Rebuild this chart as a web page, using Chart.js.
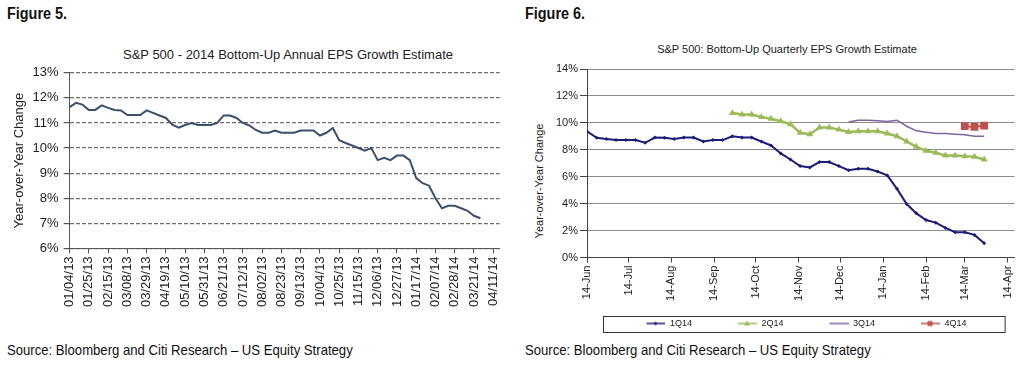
<!DOCTYPE html>
<html>
<head>
<meta charset="utf-8">
<script src="https://cdn.jsdelivr.net/npm/chart.js@4/dist/chart.umd.min.js"></script>
<style>
  body { margin: 0; background: #fff; width: 1024px; height: 365px; overflow: hidden; position: relative; font-family: "Liberation Sans", Arial, sans-serif; color: #111; }
  .fig { position: absolute; top: 5px; font-weight: bold; font-size: 16px; transform: scaleX(0.9); transform-origin: left top; }
  .ttl { position: absolute; white-space: nowrap; transform: translateX(-50%); color: #222; }
  .src { position: absolute; top: 342px; font-size: 14.5px; white-space: nowrap; transform: scaleX(0.905); transform-origin: left top; }
  .ytl { position: absolute; font-size: 11px; white-space: nowrap; transform: translate(-50%, -50%) rotate(-90deg); color: #222; }
  .box { position: absolute; }
</style>
</head>
<body>
<div class="fig" style="left:7px">Figure 5.</div>
<div class="fig" style="left:525px">Figure 6.</div>
<div class="ttl" style="left:288px; top:47px; font-size:13px">S&amp;P 500 - 2014 Bottom-Up Annual EPS Growth Estimate</div>
<div class="ttl" style="left:787px; top:43px; font-size:11px">S&amp;P 500: Bottom-Up Quarterly EPS Growth Estimate</div>
<div class="ytl" style="left:539px; top:181px">Year-over-Year Change</div>
<div class="box" style="left:0; top:60px; width:512px; height:250px"><canvas id="fig5"></canvas></div>
<div class="box" style="left:512px; top:56px; width:512px; height:284px"><canvas id="fig6"></canvas></div>
<div class="src" style="left:7px">Source: Bloomberg and Citi Research – US Equity Strategy</div>
<div class="src" style="left:525px">Source: Bloomberg and Citi Research – US Equity Strategy</div>

<script>
Chart.defaults.font.family = '"Liberation Sans", Arial, sans-serif';
Chart.defaults.color = '#222';

// ---- Figure 5 data: weekly, starting Fri 01/04/13 ----
const fig5Start = '2013-01-04';
const fig5Weeks = 68;   // axis runs a little past 04/11/14
const fig5Values = [
  11.63, 11.8, 11.73, 11.52, 11.52, 11.7, 11.6, 11.52, 11.5, 11.32,
  11.32, 11.32, 11.5, 11.4, 11.3, 11.2, 10.93, 10.81, 10.92, 11.0,
  10.92, 10.92, 10.92, 11.0, 11.3, 11.3, 11.2, 11.0, 10.9, 10.72,
  10.61, 10.61, 10.7, 10.61, 10.61, 10.61, 10.7, 10.7, 10.7, 10.5,
  10.61, 10.8, 10.31, 10.2, 10.1, 10.0, 9.9, 10.0, 9.52, 9.61,
  9.52, 9.7, 9.7, 9.52, 8.8, 8.6, 8.5, 8.0, 7.6, 7.7,
  7.7, 7.6, 7.5, 7.3, 7.2
];

// ---- Figure 6 data: weekly from 14-Jun-13, each series starts at a week index ----
const fig6Start = '2013-06-14';
const q1Start = 0;
const q1Values = [
  9.38, 8.89, 8.81, 8.72, 8.72, 8.72, 8.52, 8.91, 8.89, 8.81,
  8.91, 8.91, 8.62, 8.72, 8.72, 9.0, 8.91, 8.91, 8.62, 8.32,
  7.73, 7.28, 6.79, 6.69, 7.09, 7.09, 6.79, 6.49, 6.59, 6.59,
  6.39, 6.1, 5.1, 3.97, 3.28, 2.79, 2.59, 2.2, 1.88, 1.88,
  1.68, 1.06
];
const q2Start = 15;
const q2Values = [
  10.74, 10.62, 10.62, 10.44, 10.3, 10.12, 9.9, 9.26, 9.16, 9.65,
  9.65, 9.5, 9.33, 9.38, 9.38, 9.38, 9.21, 9.01, 8.62, 8.22,
  7.93, 7.78, 7.58, 7.58, 7.53, 7.48, 7.28
];
const q3Start = 27;
const q3Values = [10.07, 10.2, 10.2, 10.15, 10.1, 10.2, 9.75, 9.41, 9.31, 9.21, 9.21, 9.16, 9.11, 9.01, 9.01];
const q4Start = 39;
const q4Values = [9.75, 9.7, 9.8];
const fig6Months = ['14-Jun', '14-Jul', '14-Aug', '14-Sep', '14-Oct', '14-Nov', '14-Dec', '14-Jan', '14-Feb', '14-Mar', '14-Apr'];
const fig6AxisEnd = '2014-04-19';

const DAY = 86400000;
const pad2 = n => (n < 10 ? '0' : '') + n;

// weekly category labels for fig 5
const t5 = new Date(fig5Start + 'T00:00:00Z').getTime();
const fig5Labels = [];
for (let i = 0; i < fig5Weeks; i++) {
  const d = new Date(t5 + i * 7 * DAY);
  fig5Labels.push(pad2(d.getUTCMonth() + 1) + '/' + pad2(d.getUTCDate()) + '/' + pad2(d.getUTCFullYear() % 100));
}

new Chart(document.getElementById('fig5'), {
  type: 'line',
  data: {
    labels: fig5Labels,
    datasets: [{
      data: fig5Values,
      borderColor: '#3a506b',
      borderWidth: 2,
      pointRadius: 0,
      tension: 0
    }]
  },
  options: {
    responsive: true,
    maintainAspectRatio: false,
    animation: false,
    layout: { padding: { left: 10, right: 10, top: 6, bottom: 0 } },
    plugins: { legend: { display: false }, tooltip: { enabled: false } },
    scales: {
      x: {
        offset: false,
        afterBuildTicks: s => { s.ticks = s.ticks.filter(t => t.value % 3 === 0); },
        ticks: { autoSkip: false, minRotation: 90, maxRotation: 90, padding: 3, font: { size: 13 }, color: '#222' },
        grid: { drawOnChartArea: false, drawTicks: true, tickLength: 5, tickColor: '#555' },
        border: { color: '#555', width: 1 }
      },
      y: {
        min: 6, max: 13,
        ticks: { stepSize: 1, padding: 5, font: { size: 13 }, color: '#222', callback: v => v + '%' },
        grid: { color: '#6e6e6e', lineWidth: 1.2, tickLength: 6, tickColor: '#555' },
        border: { color: '#555', width: 1, dash: [4, 2] },
        title: { display: true, text: 'Year-over-Year Change', font: { size: 13 }, color: '#222', padding: { top: 2, bottom: 0 } }
      }
    }
  }
});

// ---- Figure 6 ----
const t6 = new Date(fig6Start + 'T00:00:00Z').getTime();
const dayOf = iso => Math.round((new Date(iso + 'T00:00:00Z').getTime() - t6) / DAY);
const monthDays = fig6Months.map((m, i) => Math.round((Date.UTC(2013, 5 + i, 14) - t6) / DAY));
const toPoints = (start, vals) => vals.map((v, i) => ({ x: (start + i) * 7, y: v }));

const seriesStyle = [
  { label: '1Q14', color: '#1b1b78', style: 'rectRot', radius: 2, width: 2 },
  { label: '2Q14', color: '#9bbb59', style: 'triangle', radius: 4, width: 2.5 },
  { label: '3Q14', color: '#8064a2', style: false, radius: 0, width: 1.5 },
  { label: '4Q14', color: '#c0504d', style: 'rect', radius: 5.5, width: 2 }
];

// legend swatch: blank lead-in, then line with marker (like Excel)
function swatch(s) {
  const c = document.createElement('canvas');
  c.width = 60; c.height = 10;
  const g = c.getContext('2d');
  g.strokeStyle = s.color; g.lineWidth = 1.5;
  g.beginPath(); g.moveTo(41, 5); g.lineTo(60, 5); g.stroke();
  g.fillStyle = s.color;
  if (s.style === 'rectRot') { g.beginPath(); g.moveTo(50, 3); g.lineTo(52, 5); g.lineTo(50, 7); g.lineTo(48, 5); g.fill(); }
  if (s.style === 'triangle') { g.beginPath(); g.moveTo(50, 2); g.lineTo(53, 7); g.lineTo(47, 7); g.fill(); }
  if (s.style === 'rect') { g.fillRect(47.5, 2.5, 5, 5); }
  return c;
}

const legendBox = {
  id: 'legendBox',
  afterDraw(chart) {
    const lg = chart.legend, ca = chart.chartArea, ctx = chart.ctx;
    const hb = lg.legendHitBoxes[0];
    ctx.save();
    ctx.strokeStyle = '#333';
    ctx.lineWidth = 1;
    ctx.strokeRect(ca.left + 16.5, Math.round(hb.top + hb.height / 2) - 7.5, ca.right - ca.left - 26, 16);
    ctx.restore();
  }
};

const fig6Series = [
  toPoints(q1Start, q1Values),
  toPoints(q2Start, q2Values),
  toPoints(q3Start, q3Values),
  toPoints(q4Start, q4Values)
];

new Chart(document.getElementById('fig6'), {
  type: 'line',
  data: {
    datasets: seriesStyle.map((s, i) => ({
      label: s.label,
      data: fig6Series[i],
      borderColor: s.color,
      backgroundColor: s.color,
      borderWidth: s.width,
      pointStyle: s.style,
      pointRadius: s.radius,
      pointBorderWidth: 0,
      tension: 0
    }))
  },
  options: {
    responsive: true,
    maintainAspectRatio: false,
    animation: false,
    layout: { padding: { left: 42, right: 6, top: 13, bottom: 2 } },
    plugins: {
      tooltip: { enabled: false },
      legend: {
        position: 'bottom',
        labels: {
          usePointStyle: true,
          pointStyleWidth: 60,
          padding: 5,
          font: { size: 9 },
          color: '#222',
          generateLabels: chart => seriesStyle.map((s, i) => ({
            text: s.label, pointStyle: swatch(s), datasetIndex: i,
            fillStyle: s.color, strokeStyle: s.color, lineWidth: 0, fontColor: '#222'
          }))
        }
      }
    },
    scales: {
      x: {
        type: 'linear',
        min: 0,
        max: dayOf(fig6AxisEnd),
        afterFit: s => { s.height += 10; },
        afterBuildTicks: s => { s.ticks = monthDays.map(v => ({ value: v })); },
        ticks: {
          autoSkip: false, minRotation: 90, maxRotation: 90, padding: 3, font: { size: 11 }, color: '#222',
          callback: v => fig6Months[monthDays.indexOf(v)]
        },
        grid: { drawOnChartArea: false, drawTicks: true, tickLength: 5, tickColor: '#444' },
        border: { color: '#444', width: 1 }
      },
      y: {
        min: 0, max: 14,
        ticks: { stepSize: 2, padding: 2, font: { size: 11 }, color: '#222', callback: v => v + '%' },
        grid: { color: '#8c8c8c', lineWidth: 1, tickLength: 7, tickColor: '#444' },
        border: { color: '#444', width: 1 }
      }
    }
  },
  plugins: [legendBox]
});
</script>
</body>
</html>
